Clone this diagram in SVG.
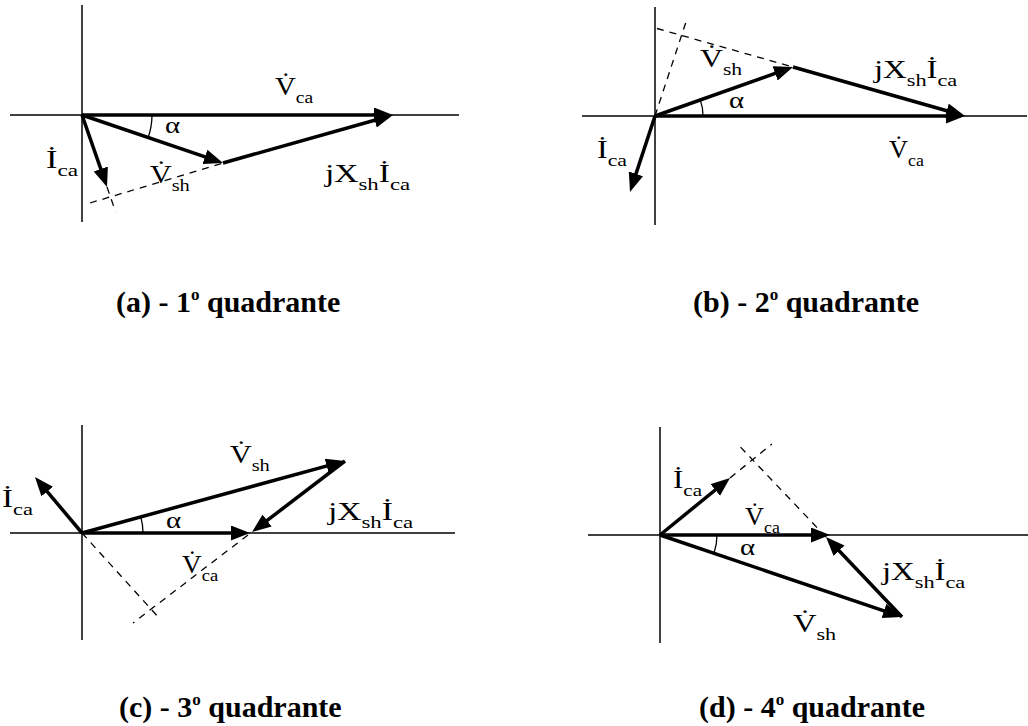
<svg xmlns="http://www.w3.org/2000/svg" width="1028" height="726" viewBox="0 0 1028 726">
<defs>
<marker id="ah" markerUnits="userSpaceOnUse" markerWidth="20" markerHeight="16" refX="11" refY="7.5" orient="auto">
<path d="M0,0 L19,7.5 L0,15 z" fill="#000"/>
</marker>
</defs>
<style>
.ax{stroke:#000;stroke-width:1.5;fill:none}
.vec{stroke:#000;stroke-width:3.5;fill:none;marker-end:url(#ah)}
.dash{stroke:#000;stroke-width:1.3;fill:none;stroke-dasharray:7 6}
.arc{stroke:#000;stroke-width:1.3;fill:none}
text{font-family:'Liberation Serif','DejaVu Serif',serif;fill:#000}
.lb{font-size:25px}
.sb{font-size:17px}
.al{font-size:24px}
.cap{font-size:30px;font-weight:bold}
</style>
<rect width="1028" height="726" fill="#fff"/>

<g id="axes">
<line class="ax" x1="82" y1="5" x2="82" y2="222"/>
<line class="ax" x1="10" y1="115" x2="459" y2="115"/>
<line class="ax" x1="655" y1="7" x2="655" y2="225"/>
<line class="ax" x1="582" y1="116" x2="1027" y2="116"/>
<line class="ax" x1="82" y1="425" x2="82" y2="640"/>
<line class="ax" x1="10" y1="533" x2="455" y2="533"/>
<line class="ax" x1="660" y1="427" x2="660" y2="643"/>
<line class="ax" x1="588" y1="535" x2="1028" y2="535"/>
</g>

<g id="connectors">
<line class="vec" x1="82" y1="115" x2="385" y2="115"/>
<line class="vec" x1="82" y1="115" x2="215.4" y2="160.4"/>
<line class="vec" x1="223" y1="163" x2="385.3" y2="117.2"/>
<line class="vec" x1="82" y1="115" x2="104.4" y2="179.4"/>
<line class="dash" x1="90" y1="203" x2="223" y2="163"/>
<line class="dash" x1="107" y1="187" x2="115.5" y2="211.6"/>
<path class="arc" d="M152,115 A70,70 0 0 1 148.2,137.5"/>
<line class="vec" x1="655" y1="116" x2="957" y2="116"/>
<line class="vec" x1="655" y1="116" x2="785.5" y2="69.7"/>
<line class="vec" x1="793" y1="67" x2="957.3" y2="113.8"/>
<line class="vec" x1="655" y1="116" x2="632.5" y2="184.4"/>
<line class="dash" x1="657" y1="28.5" x2="793" y2="67"/>
<line class="dash" x1="655" y1="116" x2="686.3" y2="21"/>
<path class="arc" d="M703,116 A48,48 0 0 0 700.3,99.9"/>
<line class="vec" x1="82" y1="533" x2="337.3" y2="463.1"/>
<line class="vec" x1="82" y1="533" x2="242" y2="533"/>
<line class="vec" x1="345" y1="461" x2="258.4" y2="527.1"/>
<line class="vec" x1="82" y1="533" x2="40.1" y2="483.1"/>
<line class="dash" x1="82" y1="533" x2="160" y2="619"/>
<line class="dash" x1="248" y1="535" x2="133" y2="623"/>
<path class="arc" d="M143,533 A61,61 0 0 0 140.8,516.9"/>
<line class="vec" x1="660" y1="535" x2="822" y2="535"/>
<line class="vec" x1="660" y1="535" x2="723.8" y2="483"/>
<line class="vec" x1="660" y1="535" x2="894.4" y2="614.4"/>
<line class="vec" x1="902" y1="617" x2="831.5" y2="542.8"/>
<line class="dash" x1="730" y1="478" x2="771.9" y2="443.9"/>
<line class="dash" x1="826" y1="537" x2="736.4" y2="442.8"/>
<path class="arc" d="M717,535 A57,57 0 0 1 714,553.3"/>
</g>

<g id="panel-a">
<text class="lb" transform="translate(275,95) scale(1.15,1)">V&#x307;<tspan class="sb" dy="8">ca</tspan></text>
<text class="al" transform="translate(165,133) scale(1.2,1)">α</text>
<text class="lb" transform="translate(150,183) scale(1.2,1)">V&#x307;<tspan class="sb" dy="8">sh</tspan></text>
<text class="lb" transform="translate(46,168) scale(1.37,1)">İ<tspan class="sb" dy="8">ca</tspan></text>
<text class="lb" transform="translate(325,182) scale(1.34,1)">jX<tspan class="sb" dy="8">sh</tspan><tspan dy="-8">İ</tspan><tspan class="sb" dy="8">ca</tspan></text>
<text class="cap" x="116" y="312">(a) - 1<tspan font-size="17" dy="-12">o</tspan><tspan dy="12"> quadrante</tspan></text>
</g>

<g id="panel-b">
<text class="lb" transform="translate(700,67) scale(1.27,1)">V&#x307;<tspan class="sb" dy="8">sh</tspan></text>
<text class="al" transform="translate(729,108) scale(1.2,1)">α</text>
<text class="lb" transform="translate(874,78) scale(1.31,1)">jX<tspan class="sb" dy="8">sh</tspan><tspan dy="-8">İ</tspan><tspan class="sb" dy="8">ca</tspan></text>
<text class="lb" transform="translate(889,158) scale(1.05,1)">V&#x307;<tspan class="sb" dy="8">ca</tspan></text>
<text class="lb" transform="translate(597,158) scale(1.28,1)">İ<tspan class="sb" dy="8">ca</tspan></text>
<text class="cap" x="693" y="312">(b) - 2<tspan font-size="17" dy="-12">o</tspan><tspan dy="12"> quadrante</tspan></text>
</g>

<g id="panel-c">
<text class="lb" transform="translate(230,463) scale(1.2,1)">V&#x307;<tspan class="sb" dy="8">sh</tspan></text>
<text class="al" transform="translate(166,528) scale(1.2,1)">α</text>
<text class="lb" transform="translate(328,520) scale(1.34,1)">jX<tspan class="sb" dy="8">sh</tspan><tspan dy="-8">İ</tspan><tspan class="sb" dy="8">ca</tspan></text>
<text class="lb" transform="translate(182,573) scale(1.09,1)">V&#x307;<tspan class="sb" dy="8">ca</tspan></text>
<text class="lb" transform="translate(2,507) scale(1.32,1)">İ<tspan class="sb" dy="8">ca</tspan></text>
<text class="cap" x="119" y="717">(c) - 3<tspan font-size="17" dy="-12">o</tspan><tspan dy="12"> quadrante</tspan></text>
</g>

<g id="panel-d">
<text class="lb" transform="translate(673,488) scale(1.24,1)">İ<tspan class="sb" dy="8">ca</tspan></text>
<text class="lb" transform="translate(745,525) scale(1.05,1)">V&#x307;<tspan class="sb" dy="8">ca</tspan></text>
<text class="al" transform="translate(740,555) scale(1.2,1)">α</text>
<text class="lb" transform="translate(882,580) scale(1.31,1)">jX<tspan class="sb" dy="8">sh</tspan><tspan dy="-8">İ</tspan><tspan class="sb" dy="8">ca</tspan></text>
<text class="lb" transform="translate(793,632) scale(1.3,1)">V&#x307;<tspan class="sb" dy="8">sh</tspan></text>
<text class="cap" x="699" y="717">(d) - 4<tspan font-size="17" dy="-12">o</tspan><tspan dy="12"> quadrante</tspan></text>
</g>
</svg>
